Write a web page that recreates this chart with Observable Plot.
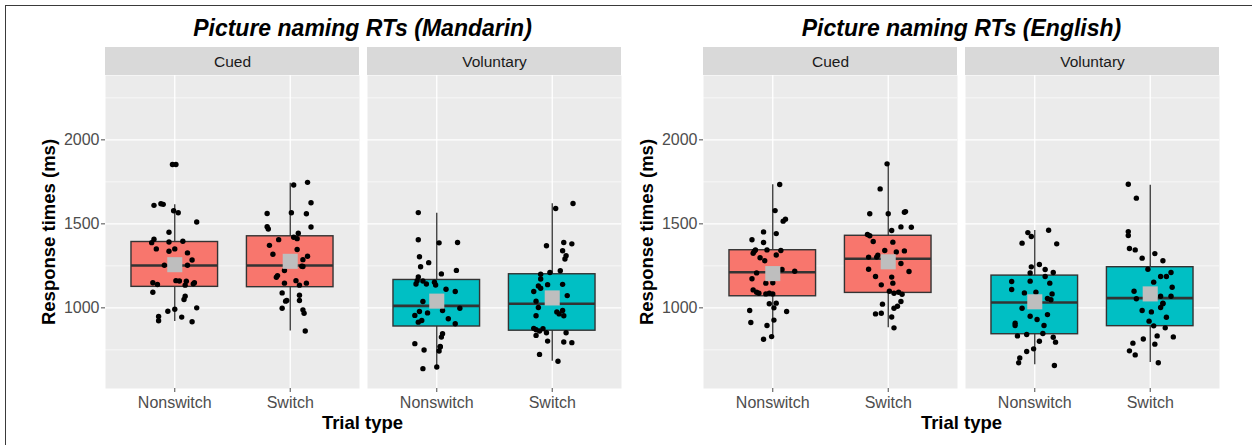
<!DOCTYPE html>
<html>
<head>
<meta charset="utf-8">
<script src="https://cdn.jsdelivr.net/npm/d3@7"></script>
<script src="https://cdn.jsdelivr.net/npm/@observablehq/plot@0.6"></script>
<style>
  html, body { margin: 0; padding: 0; background: #fff; }
  #fig { position: relative; width: 1252px; height: 445px; overflow: hidden; background: #fff;
         font-family: "Liberation Sans", Arial, sans-serif; }
  #border { position: absolute; left: 5px; top: 5px; width: 1260px; height: 450px;
            border-top: 1.5px solid #3a3a3a; border-left: 1.5px solid #3a3a3a; }
  .title { position: absolute; width: 600px; text-align: center; font-weight: bold; font-style: italic;
           font-size: 23px; line-height: 26px; top: 15px; color: #000; }
  .xlab { position: absolute; width: 300px; text-align: center; font-weight: bold;
          font-size: 18.5px; line-height: 22px; top: 412px; color: #000; }
</style>
</head>
<body>
<div id="fig">
  <div id="border"></div>
</div>
<script>
// ---------------- data ----------------
const conditions = ["Cued", "Voluntary"];
const trialTypes = ["Nonswitch", "Switch"];
const titles = ["Picture naming RTs (Mandarin)", "Picture naming RTs (English)"];
const yLabel = "Response times (ms)";
const xLabel = "Trial type";
const majorTicks = [1000, 1500, 2000];
const minorTicks = [750, 1250, 1750, 2250];
const yDomain = [520, 2383];

// box summaries: [condition, trial type, lower whisker, Q1, median, Q3, upper whisker, mean]
const mandarinBoxes = [
  ["Cued", "Nonswitch", 919, 1125, 1252, 1392, 1614, 1257],
  ["Cued", "Switch", 862, 1123, 1252, 1426, 1741, 1277],
  ["Voluntary", "Nonswitch", 648, 889, 1012, 1166, 1563, 1040],
  ["Voluntary", "Switch", 682, 864, 1024, 1200, 1620, 1059]
];
const englishBoxes = [
  ["Cued", "Nonswitch", 821, 1069, 1212, 1343, 1732, 1204],
  ["Cued", "Switch", 881, 1089, 1292, 1429, 1857, 1274],
  ["Voluntary", "Nonswitch", 661, 843, 1032, 1192, 1460, 1036],
  ["Voluntary", "Switch", 675, 891, 1058, 1242, 1730, 1083]
];

// participant points: [response time, horizontal jitter in category units]
const mandarinCuedNonswitch = [[1853,-0.02],[1853,0.01],[1610,-0.18],[1620,-0.12],[1616,-0.10],[1578,-0.01],[1566,0.03],[1511,0.19],[1450,-0.05],[1408,-0.18],[1388,-0.20],[1392,-0.05],[1396,0.07],[1351,-0.16],[1337,-0.05],[1351,0.00],[1327,0.11],[1285,0.15],[1254,-0.09],[1254,0.11],[1149,-0.19],[1139,-0.15],[1162,0.01],[1160,0.04],[1158,0.10],[1143,0.16],[1149,0.17],[1135,0.09],[1093,-0.19],[1069,0.09],[1050,0.08],[1000,0.19],[980,-0.06],[992,0.00],[949,-0.14],[923,-0.14],[945,0.06],[917,0.15]];
const mandarinCuedSwitch = [[1731,0.03],[1747,0.15],[1626,0.18],[1562,-0.20],[1566,0.01],[1560,0.14],[1483,-0.20],[1469,-0.19],[1481,0.18],[1444,0.07],[1406,-0.10],[1420,0.03],[1412,0.06],[1372,-0.18],[1347,0.06],[1319,-0.15],[1307,0.15],[1287,0.11],[1222,-0.05],[1248,0.10],[1246,0.11],[1192,-0.11],[1182,-0.12],[1162,0.05],[1147,-0.05],[1135,0.08],[1147,0.14],[1089,-0.07],[1075,0.08],[1044,-0.03],[1040,-0.04],[1044,0.08],[998,-0.07],[988,0.11],[968,0.12],[862,0.13]];
const mandarinVoluntaryNonswitch = [[1567,-0.16],[1405,-0.16],[1387,0.02],[1389,0.18],[1304,-0.15],[1269,-0.07],[1245,-0.14],[1223,0.17],[1202,0.04],[1184,-0.16],[1162,-0.17],[1142,-0.18],[1160,-0.12],[1142,-0.09],[1152,-0.02],[1136,-0.01],[1111,0.08],[1097,0.16],[1038,-0.12],[998,0.20],[984,0.05],[978,-0.15],[955,-0.19],[970,-0.08],[935,0.10],[915,-0.16],[925,-0.13],[905,0.16],[846,0.05],[826,0.04],[771,0.03],[743,0.02],[767,0.03],[787,-0.19],[749,-0.11],[638,-0.12],[648,0.00]];
const mandarinVoluntarySwitch = [[1591,0.03],[1621,0.18],[1370,-0.05],[1389,0.10],[1381,0.17],[1340,0.09],[1310,0.12],[1291,0.11],[1221,0.07],[1210,-0.02],[1200,-0.10],[1172,-0.10],[1140,0.09],[1130,-0.12],[1117,-0.10],[1138,-0.04],[1097,-0.16],[1073,0.13],[1040,-0.14],[1002,-0.12],[984,0.09],[976,0.04],[964,0.06],[953,0.10],[953,-0.14],[878,-0.16],[870,-0.14],[862,-0.11],[876,-0.08],[852,-0.05],[836,-0.14],[852,0.12],[802,-0.04],[797,0.10],[793,0.17],[723,-0.11],[682,0.05]];
const englishCuedNonswitch = [[1734,0.06],[1579,0.02],[1516,0.09],[1528,0.11],[1452,-0.08],[1442,0.03],[1405,-0.18],[1389,-0.08],[1337,-0.16],[1345,-0.15],[1325,-0.17],[1345,-0.05],[1341,0.07],[1298,-0.11],[1280,-0.07],[1315,0.03],[1218,0.19],[1208,-0.14],[1228,0.08],[1173,-0.18],[1147,-0.06],[1149,0.00],[1107,-0.17],[1093,-0.14],[1087,-0.12],[1083,-0.06],[1087,-0.03],[1083,0.00],[1024,-0.03],[1028,0.03],[1000,0.01],[984,-0.20],[978,0.12],[913,-0.19],[895,-0.05],[927,0.01],[829,-0.01],[813,-0.08]];
const englishCuedSwitch = [[1857,-0.01],[1708,-0.07],[1560,-0.16],[1560,0.00],[1569,0.14],[1573,0.15],[1460,0.03],[1482,0.11],[1480,0.20],[1437,-0.18],[1429,-0.16],[1395,-0.13],[1391,0.04],[1341,-0.03],[1333,0.07],[1339,0.14],[1302,-0.17],[1302,-0.10],[1313,-0.09],[1264,0.11],[1230,-0.17],[1216,0.18],[1187,-0.11],[1183,0.03],[1137,-0.06],[1147,0.04],[1099,0.01],[1087,0.05],[1093,0.09],[1081,0.12],[1022,-0.05],[1038,0.11],[1010,0.08],[998,0.05],[964,-0.11],[968,-0.06],[946,0.03],[881,0.05]];
const englishVoluntaryNonswitch = [[1448,-0.06],[1425,-0.03],[1462,0.12],[1385,-0.11],[1381,0.19],[1258,0.04],[1244,-0.03],[1228,0.09],[1208,-0.04],[1210,0.16],[1187,0.09],[1157,-0.20],[1159,-0.04],[1147,0.13],[1109,-0.20],[1089,-0.09],[1093,0.01],[1083,0.15],[1056,0.11],[1048,0.14],[998,-0.11],[960,0.11],[950,-0.04],[931,0.02],[909,-0.17],[895,-0.17],[895,0.08],[833,-0.15],[841,-0.07],[847,0.07],[825,0.16],[796,0.18],[801,0.04],[756,-0.01],[740,-0.07],[702,-0.13],[673,-0.14],[657,0.17]];
const englishVoluntarySwitch = [[1736,-0.19],[1653,-0.12],[1454,-0.19],[1431,-0.19],[1353,-0.18],[1345,-0.13],[1323,0.04],[1296,-0.07],[1280,0.11],[1230,-0.02],[1210,0.18],[1187,0.09],[1187,0.14],[1153,0.03],[1123,0.19],[1099,-0.14],[1069,0.09],[1069,0.18],[1054,-0.12],[1024,0.11],[1002,0.09],[1028,0.11],[984,-0.07],[976,0.01],[944,0.14],[921,-0.01],[893,0.03],[881,0.13],[833,0.06],[827,0.20],[815,-0.06],[790,-0.15],[784,0.04],[744,-0.18],[720,-0.13],[673,0.07]];

const mandarinGroups = [
  ["Cued", "Nonswitch", mandarinCuedNonswitch],
  ["Cued", "Switch", mandarinCuedSwitch],
  ["Voluntary", "Nonswitch", mandarinVoluntaryNonswitch],
  ["Voluntary", "Switch", mandarinVoluntarySwitch]
];
const englishGroups = [
  ["Cued", "Nonswitch", englishCuedNonswitch],
  ["Cued", "Switch", englishCuedSwitch],
  ["Voluntary", "Nonswitch", englishVoluntaryNonswitch],
  ["Voluntary", "Switch", englishVoluntarySwitch]
];
const boxColors = ["#F8766D", "#00BFC4"];

// ---------------- drawing ----------------
const FONT = '"Liberation Sans", Arial, sans-serif';
const BOX_HALF = 0.375;

function makeChart(groups, boxes, marginRight) {
  const points = groups.flatMap(([cond, type, arr]) =>
    arr.map(([v, j]) => ({cond, pos: trialTypes.indexOf(type) + 1 + j, v})));
  const B = boxes.map(([cond, type, lo, q1, med, q3, hi, mean]) =>
    ({cond, idx: trialTypes.indexOf(type) + 1, lo, q1, med, q3, hi, mean}));
  const svg = Plot.plot({
    width: 630, height: 405,
    marginTop: 35, marginBottom: 57, marginLeft: 104, marginRight,
    style: {fontFamily: FONT, background: "transparent", overflow: "visible"},
    fx: {domain: conditions, paddingInner: 0.0304, paddingOuter: 0, label: null},
    x: {domain: [0.4, 2.6]},
    y: {domain: yDomain},
    color: {domain: conditions, range: boxColors},
    marks: [
      Plot.frame({fill: "#EBEBEB"}),
      Plot.rect(conditions, {fx: d => d, fill: "#D9D9D9", insetTop: -28, insetBottom: 313}),
      Plot.axisFx({anchor: "top", tickSize: 0, tickPadding: 9, fontSize: 15.5, color: "#1A1A1A", label: null}),
      Plot.ruleY(minorTicks, {stroke: "#fff", strokeWidth: 0.6}),
      Plot.ruleY(majorTicks, {stroke: "#fff", strokeWidth: 1.3}),
      Plot.ruleX([1, 2], {stroke: "#fff", strokeWidth: 1.3}),
      Plot.ruleX(B, {fx: "cond", x: "idx", y1: "lo", y2: "hi", stroke: "#222", strokeWidth: 1.2}),
      Plot.rect(B, {fx: "cond", x1: d => d.idx - BOX_HALF, x2: d => d.idx + BOX_HALF, y1: "q1", y2: "q3",
                    fill: "cond", stroke: "#333", strokeWidth: 1.4}),
      Plot.ruleY(B, {fx: "cond", y: "med", x1: d => d.idx - BOX_HALF, x2: d => d.idx + BOX_HALF,
                     stroke: "#333", strokeWidth: 2.6}),
      Plot.dot(points, {fx: "cond", x: "pos", y: "v", r: 2.7, fill: "#000", stroke: null}),
      Plot.dot(B, {fx: "cond", x: "idx", y: "mean", symbol: "square", r: 8.5, fill: "#BEBEBE", stroke: null}),
      Plot.axisY({ticks: majorTicks, tickFormat: d => String(d), tickSize: 4, tickPadding: 2, fontSize: 16,
                  color: "#4D4D4D", label: yLabel, labelAnchor: "center", labelOffset: 64, labelArrow: "none"}),
      Plot.axisX({ticks: [1, 2], tickFormat: d => trialTypes[Math.round(d) - 1], tickSize: 4, tickPadding: 4,
                  fontSize: 16, color: "#4D4D4D", label: null})
    ]
  });
  // text styling that Plot leaves at its defaults
  svg.querySelectorAll("text").forEach(t => {
    const s = t.textContent.trim();
    if (conditions.includes(s)) {
      t.style.fontSize = "15.5px";
      t.setAttribute("fill", "#1A1A1A");
    } else if (s === yLabel) {
      t.style.fontSize = "18.5px";
      t.style.fontWeight = "bold";
      t.setAttribute("fill", "#000");
    }
  });
  return svg;
}

const fig = document.getElementById("fig");
const layouts = [
  {left: 0, center: 362.5, groups: mandarinGroups, boxes: mandarinBoxes},
  {left: 598, center: 961.5, groups: englishGroups, boxes: englishBoxes}
];
layouts.forEach((L, i) => {
  const t = document.createElement("div");
  t.className = "title";
  t.style.left = (L.center - 300) + "px";
  t.textContent = titles[i];
  fig.appendChild(t);

  const svg = makeChart(L.groups, L.boxes, 8);
  svg.style.position = "absolute";
  svg.style.left = L.left + "px";
  svg.style.top = "40px";
  fig.appendChild(svg);

  const x = document.createElement("div");
  x.className = "xlab";
  x.style.left = (L.center - 150) + "px";
  x.textContent = xLabel;
  fig.appendChild(x);
});
</script>
</body>
</html>
